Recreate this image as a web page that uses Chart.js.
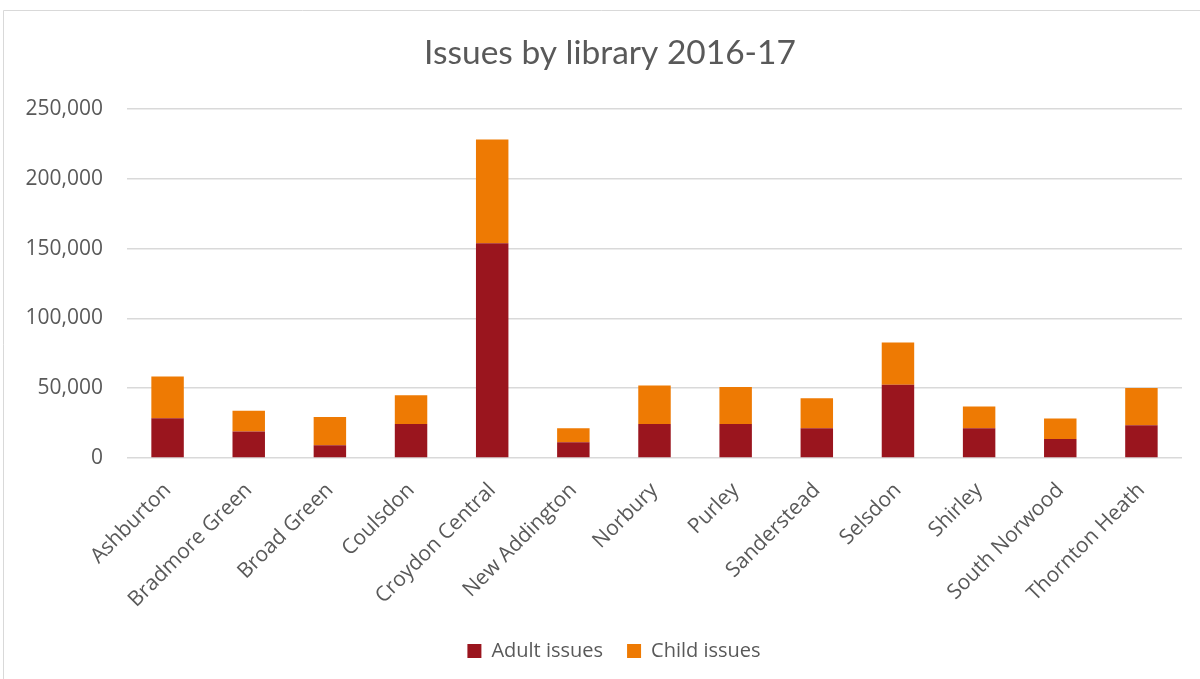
<!DOCTYPE html>
<html>
<head>
<meta charset="utf-8">
<title>Issues by library 2016-17</title>
<script src="https://cdn.jsdelivr.net/npm/chart.js@4.4.0/dist/chart.umd.min.js"></script>
<style>
  html, body { margin: 0; padding: 0; background: #fff; }
  #wrap { width: 1200px; height: 679px; position: relative; }
</style>
</head>
<body>
<div id="wrap"><canvas id="issues" width="1200" height="679"></canvas></div>
<script>
var libraries = ['Ashburton', 'Bradmore Green', 'Broad Green', 'Coulsdon', 'Croydon Central',
  'New Addington', 'Norbury', 'Purley', 'Sanderstead', 'Selsdon', 'Shirley',
  'South Norwood', 'Thornton Heath'];
var adultIssues = [28500, 19000, 9100, 24400, 153900, 11300, 24400, 24400, 21400, 52500, 21400, 13700, 23500];
var childIssues = [30000, 14800, 20200, 20500, 74300, 10100, 27600, 26400, 21500, 30200, 15600, 14600, 26600];
var yTicks = [0, 50000, 100000, 150000, 200000, 250000];

var grey = '#595959';

// white page with the thin frame along the top and left edges
var frame = {
  id: 'frame',
  beforeDraw: function(chart) {
    var ctx = chart.ctx;
    ctx.save();
    ctx.fillStyle = '#fff';
    ctx.fillRect(0, 0, chart.width, chart.height);
    ctx.strokeStyle = '#d9d9d9';
    ctx.lineWidth = 1;
    ctx.beginPath();
    ctx.moveTo(3.5, chart.height);
    ctx.lineTo(3.5, 10.5);
    ctx.lineTo(chart.width, 10.5);
    ctx.stroke();
    ctx.restore();
  }
};

// title and legend sit a little right of the page centre
var nudge = {
  id: 'nudge',
  afterLayout: function(chart) {
    chart.titleBlock.left += 8;
    chart.titleBlock.right += 8;
    chart.legend.left += 12;
    chart.legend.right += 12;
  }
};

new Chart(document.getElementById('issues').getContext('2d'), {
  type: 'bar',
  data: {
    labels: libraries,
    datasets: [{
      label: 'Adult issues',
      data: adultIssues,
      backgroundColor: '#9a151e',
      barPercentage: 0.4,
      categoryPercentage: 1
    }, {
      label: 'Child issues',
      data: childIssues,
      backgroundColor: '#ee7a03',
      barPercentage: 0.4,
      categoryPercentage: 1
    }]
  },
  options: {
    responsive: false,
    animation: false,
    layout: { padding: { top: 10, right: 18, left: 22, bottom: 8 } },
    plugins: {
      title: {
        display: true,
        text: 'Issues by library 2016-17',
        color: grey,
        font: { family: 'Lato', size: 33.5, weight: 'normal' },
        padding: { top: 23, bottom: 36 }
      },
      legend: {
        position: 'bottom',
        labels: {
          color: grey,
          font: { family: 'Open Sans', size: 20 },
          boxWidth: 14,
          boxHeight: 14,
          padding: 24
        }
      },
      tooltip: { enabled: false }
    },
    scales: {
      x: {
        stacked: true,
        grid: { display: false },
        border: { display: false },
        ticks: {
          color: grey,
          font: { family: 'Open Sans', size: 21 },
          maxRotation: 45,
          minRotation: 45,
          autoSkip: false,
          padding: 12
        },
        afterFit: function(scale) { scale.height = 159; }
      },
      y: {
        stacked: true,
        min: 0,
        max: 250000,
        afterBuildTicks: function(scale) {
          scale.ticks = yTicks.map(function(v) { return { value: v }; });
        },
        grid: { color: '#d9d9d9', lineWidth: 1.5, drawTicks: false },
        border: { display: false },
        ticks: {
          color: grey,
          font: { family: 'Open Sans', size: 21 },
          padding: 24,
          callback: function(v) { return v.toLocaleString('en-GB'); }
        },
        afterFit: function(scale) { scale.width = 105; }
      }
    }
  },
  plugins: [frame, nudge]
});
</script>
</body>
</html>
